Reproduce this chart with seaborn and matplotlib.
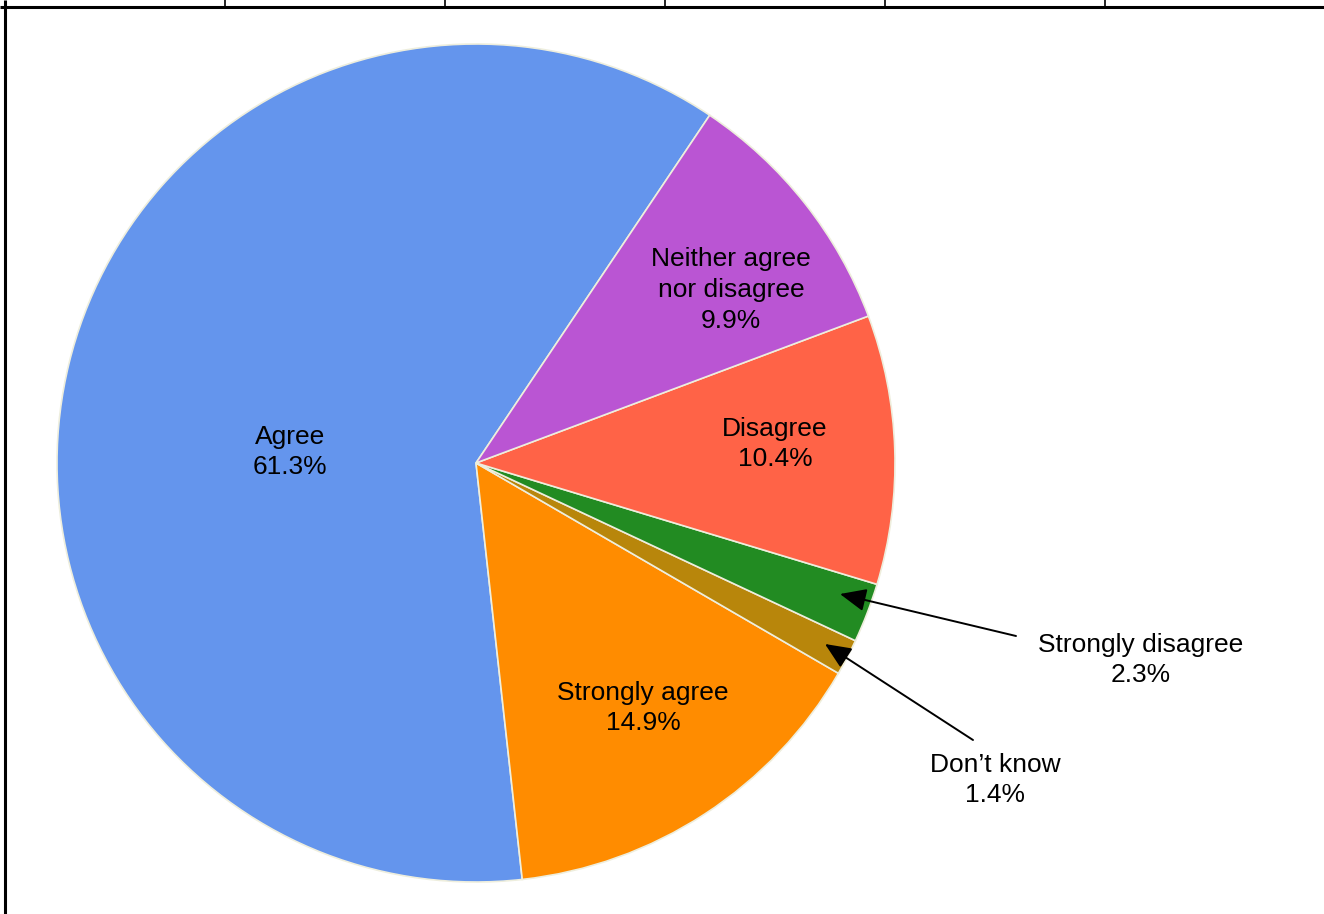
import matplotlib
matplotlib.use("Agg")
import matplotlib.pyplot as plt
import seaborn as sns

# Survey responses, counter-clockwise from the top-right
categories = ["Agree", "Strongly agree", "Don\u2019t know", "Strongly disagree", "Disagree",
              "Neither agree\nnor disagree"]
shares = [61.3, 14.9, 1.4, 2.3, 10.4, 9.9]
colors = ["#6495ED", "#FF8C00", "#B8860B", "#228B22", "#FF6347", "#BA55D3"]

sns.set_style("white")
plt.rcParams["font.family"] = ["Liberation Sans", "DejaVu Sans"]

W, H = 1324, 914
fig = plt.figure(figsize=(W / 100, H / 100), dpi=100)
ax = fig.add_axes([0, 0, 1, 1])

cx, cy, r = 476, H - 463, 419
wedges, _ = ax.pie(shares, colors=colors, startangle=56.1, counterclock=True,
                   center=(cx, cy), radius=r, frame=True,
                   wedgeprops=dict(edgecolor="#eeeedd", linewidth=1.2))
ax.set_xlim(0, W)
ax.set_ylim(0, H)
ax.set_aspect("equal")
ax.axis("off")

fs = 19
def label(i, x, y):
    ax.text(x, H - y, f"{categories[i]}\n{shares[i]:.1f}%", ha="center", va="center",
            fontsize=fs, linespacing=1.36, color="black")

label(0, 290, 452)
label(5, 731, 290)
label(4, 775, 444)
label(1, 643, 708)
label(3, 1141, 660)
label(2, 995, 780)

# Leader arrows for the two thin slices
arrow = dict(arrowstyle="-|>,head_length=0.8,head_width=0.35", color="black", lw=1.4,
             mutation_scale=20, shrinkA=0, shrinkB=0)
ax.annotate("", xy=(840, H - 594), xytext=(1016, H - 636), arrowprops=arrow)
ax.annotate("", xy=(825, H - 644), xytext=(973, H - 740), arrowprops=arrow)

# Surrounding table rules
ax.plot([0, W], [H - 7, H - 7], color="black", lw=2.2, solid_capstyle="butt")
ax.plot([5, 5], [0, H], color="black", lw=2.2, solid_capstyle="butt")
for x in [225, 445, 665, 885, 1105]:
    ax.plot([x, x], [H - 7, H], color="black", lw=1.2, solid_capstyle="butt")

fig.savefig("out.png", dpi=100)
